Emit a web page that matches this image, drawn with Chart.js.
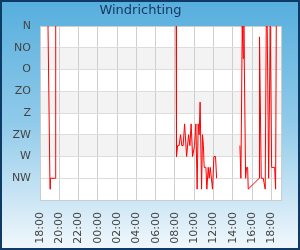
<!DOCTYPE html>
<html>
<head>
<meta charset="utf-8">
<script src="https://cdn.jsdelivr.net/npm/chart.js@4.4.1/dist/chart.umd.min.js"></script>
<style>
  html, body { margin: 0; padding: 0; background: #fff; }
  canvas { display: block; }
</style>
</head>
<body>
<canvas id="windrichting" width="300" height="250"></canvas>
<script>
// tijd in uren sinds 18:00 (begin van de grafiek), null = geen meting
let uren = [
  0.83, 1.04, 1.08, 1.56, 1.63, 1.7,
  14.12, 14.16, 14.27, 14.43, 14.58, 14.71, 14.85, 15.0, 15.21, 15.41,
  15.55, 15.68, 15.83, 16.03, 16.17, 16.3, 16.41, 16.51, 16.61, 16.76,
  16.86, 16.95, 17.03, 17.21, 17.31, 17.45, 17.55, 17.66, 17.78, 17.9,
  18.04, 18.21, 18.32, 18.4,
  20.74, 20.84, 20.98, 21.08, 21.15, 21.33, 21.43, 21.54, 21.6, 22.74,
  22.77, 22.95, 23.16, 23.36, 23.47, 23.57, 23.72, 23.88, 24.03, 24.34,
  24.44, 24.51
];
// windrichting in graden (0 = N)
let richting = [
  0, 337.5, 315, 315, 0, null,
  0, 270, 247.5, 247.5, 225, 247.5, 247.5, 202.5, 270, 225,
  247.5, 202.5, 270, 247.5, 202.5, 337.5, 202.5, 225, 157.5, 337.5,
  225, 247.5, 292.5, 292.5, 337.5, 292.5, 315, 292.5, 315, 337.5,
  270, 270, 315, null,
  247.5, 315, 0, 67.5, 0, 315, 292.5, 292.5, 337.5, 315,
  22.5, 315, 315, 337.5, 0, 0, 315, 0, 292.5, 292.5,
  337.5, 0
];
let richtingLabels = ["N", "NO", "O", "ZO", "Z", "ZW", "W", "NW"];
let tijdLabels = ["18:00", "20:00", "22:00", "00:00", "02:00", "04:00", "06:00",
  "08:00", "10:00", "12:00", "14:00", "16:00", "18:00"];

let punten = uren.map(function (u, i) {
  return { x: u, y: richting[i] };
});

// achtergrond, banden en kaders
const achtergrond = {
  id: "achtergrond",
  beforeDraw: function (chart) {
    let ctx = chart.ctx;
    let a = chart.chartArea;
    let ys = chart.scales.y;
    ctx.save();
    let grad = ctx.createLinearGradient(0, 0, 0, chart.height);
    grad.addColorStop(0, "#56aedd");
    grad.addColorStop(0.5, "#92cbea");
    grad.addColorStop(1, "#f2f8fc");
    ctx.fillStyle = grad;
    ctx.fillRect(0, 0, chart.width, chart.height);
    ctx.fillStyle = "#ffffff";
    ctx.fillRect(a.left, a.top, a.right - a.left, a.bottom - a.top);
    ctx.fillStyle = "#f3f3f3";
    for (let k = 1; k < 7; k += 2) {
      let y1 = ys.getPixelForValue(k * 45);
      let y2 = ys.getPixelForValue((k + 1) * 45);
      ctx.fillRect(a.left, y1, a.right - a.left, y2 - y1);
    }
    ctx.restore();
  },
  beforeDatasetsDraw: function (chart) {
    let ctx = chart.ctx;
    let a = chart.chartArea;
    ctx.save();
    ctx.strokeStyle = "#cccccc";
    ctx.lineWidth = 1;
    ctx.strokeRect(a.left + 0.5, a.top + 0.5, a.right - a.left, a.bottom - a.top);
    ctx.restore();
  },
  afterDraw: function (chart) {
    let ctx = chart.ctx;
    ctx.save();
    ctx.strokeStyle = "#0e3a66";
    ctx.lineWidth = 2;
    ctx.strokeRect(1, 1, chart.width - 2, chart.height - 2);
    ctx.restore();
  }
};

new Chart(document.getElementById("windrichting"), {
  type: "line",
  data: {
    datasets: [{
      label: "Windrichting",
      data: punten,
      borderColor: "#ff0000",
      borderWidth: 1,
      pointRadius: 0,
      tension: 0,
      spanGaps: false,
    }],
  },
  options: {
    responsive: false,
    animation: false,
    devicePixelRatio: 1,
    layout: { padding: { left: 0, right: 19, top: 0, bottom: 0 } },
    plugins: {
      legend: { display: false },
      tooltip: { enabled: false },
      title: {
        display: true,
        text: "Windrichting",
        color: "#15365e",
        font: { family: "DejaVu Sans", size: 13, weight: "normal", lineHeight: "16px" },
        padding: { top: 3, bottom: 7 },
      },
    },
    scales: {
      x: {
        type: "linear",
        min: 0,
        max: 25,
        afterFit: function (s) { s.height = 50; },
        border: { display: false },
        grid: { color: "#cfcfcf", drawTicks: false },
        ticks: {
          stepSize: 2,
          includeBounds: false,
          autoSkip: false,
          maxRotation: 90,
          minRotation: 90,
          padding: 12,
          color: "#444444",
          font: { family: "DejaVu Sans", size: 11 },
          callback: function (v) { return tijdLabels[v / 2]; },
        },
      },
      y: {
        type: "linear",
        reverse: true,
        min: 0,
        max: 360,
        afterFit: function (s) { s.width = 40; },
        border: { display: false },
        grid: { color: "#dddddd", drawTicks: false },
        ticks: {
          stepSize: 45,
          padding: 9,
          color: "#444444",
          font: { family: "DejaVu Sans", size: 11 },
          callback: function (v) { return v < 360 ? richtingLabels[v / 45] : ""; },
        },
      },
    },
  },
  plugins: [achtergrond],
});
</script>
</body>
</html>
